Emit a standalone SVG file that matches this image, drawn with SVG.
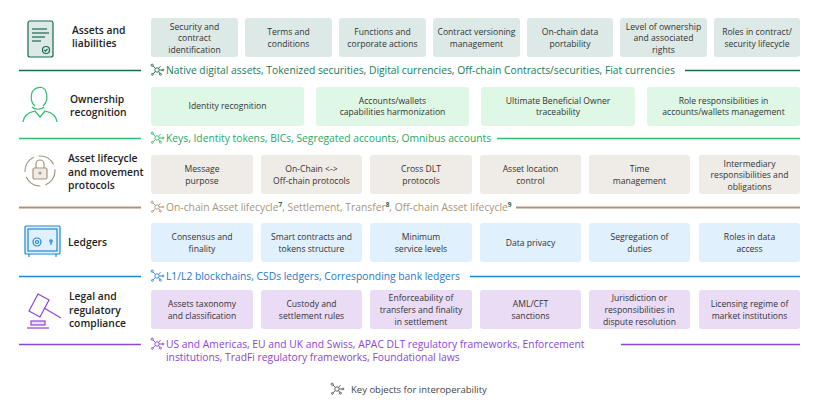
<svg xmlns="http://www.w3.org/2000/svg" width="819" height="414" viewBox="0 0 819 414">
<style>
text{font-family:"Open Sans","Liberation Sans",sans-serif}
.t{font-size:10.3px;font-weight:600;fill:#222}
.b{font-size:8.6px;fill:#333;text-anchor:middle}
.k{font-size:10.3px}
.r1 rect{fill:#dde9e6}.r2 rect{fill:#dff7e5}.r3 rect{fill:#efebe7}.r4 rect{fill:#e0f0fd}.r5 rect{fill:#eadcf5}
rect.bx{rx:3}
.ic{fill:none;stroke-width:1.2}
</style>
<defs>
<g id="net" fill="none" stroke-width="0.9">
<circle cx="0" cy="0" r="2.2"/><line x1="-1.6" y1="-1.6" x2="-4" y2="-4"/><circle cx="-4.8" cy="-4.8" r="1.1"/><line x1="1.6" y1="-1.6" x2="3.5" y2="-3.8"/><line x1="-1.6" y1="1.6" x2="-4" y2="3.8"/><circle cx="-4.6" cy="4.4" r="0.9"/><line x1="1.6" y1="1.6" x2="3" y2="3.6"/><circle cx="3.4" cy="4.2" r="1"/><line x1="2.2" y1="0" x2="5" y2="0"/><circle cx="6" cy="0" r="0.9"/>
</g>
</defs>

<g id="row1" class="r1">
<g class="ic" stroke="#1a6b4e"><rect x="28" y="21" width="25" height="36" rx="2"/><line x1="32" y1="29" x2="47" y2="29"/><line x1="32" y1="33" x2="49" y2="33"/><line x1="32" y1="37" x2="45" y2="37"/><line x1="32" y1="41" x2="41" y2="41"/><circle cx="46" cy="50" r="3.5"/><path d="M44.3 50l1.2 1.2 2-2.2"/></g>
<text class="t" x="72" y="34">Assets and</text><text class="t" x="72" y="47">liabilities</text>
<rect class="bx" x="151" y="18" width="87" height="39"/><text class="b" x="194.5" y="30">Security and</text><text class="b" x="194.5" y="41">contract</text><text class="b" x="194.5" y="53">identification</text>
<rect class="bx" x="245" y="18" width="87" height="39"/><text class="b" x="288.5" y="35">Terms and</text><text class="b" x="288.5" y="47">conditions</text>
<rect class="bx" x="339" y="18" width="87" height="39"/><text class="b" x="382.5" y="35">Functions and</text><text class="b" x="382.5" y="47">corporate actions</text>
<rect class="bx" x="433" y="18" width="87" height="39"/><text class="b" x="476.5" y="35">Contract versioning</text><text class="b" x="476.5" y="47">management</text>
<rect class="bx" x="527" y="18" width="86" height="39"/><text class="b" x="570" y="35">On-chain data</text><text class="b" x="570" y="47">portability</text>
<rect class="bx" x="620" y="18" width="87" height="39"/><text class="b" x="663.5" y="30">Level of ownership</text><text class="b" x="663.5" y="41">and associated</text><text class="b" x="663.5" y="53">rights</text>
<rect class="bx" x="714" y="18" width="86" height="39"/><text class="b" x="757" y="35">Roles in contract/</text><text class="b" x="757" y="47">security lifecycle</text>
</g>
<g id="row2" class="r2">
<g class="ic" stroke="#2dbd6e"><path d="M35 106c-5-4-5-14 0-17c4-3 10-2 11 3c2 4 1 11-3 14"/><path d="M32 107c3 3 9 3 12 0"/><path d="M23 122c1-8 7-10 12-11l5 6 5-6c5 1 11 3 12 11"/></g>
<text class="t" x="70" y="103">Ownership</text><text class="t" x="70" y="116">recognition</text>
<rect class="bx" x="151" y="87" width="153" height="39"/><text class="b" x="227.5" y="109">Identity recognition</text>
<rect class="bx" x="316" y="87" width="153" height="39"/><text class="b" x="392.5" y="104">Accounts/wallets</text><text class="b" x="392.5" y="115">capabilities harmonization</text>
<rect class="bx" x="481" y="87" width="154" height="39"/><text class="b" x="558" y="104">Ultimate Beneficial Owner</text><text class="b" x="558" y="115">traceability</text>
<rect class="bx" x="647" y="87" width="153" height="39"/><text class="b" x="723.5" y="104">Role responsibilities in</text><text class="b" x="723.5" y="115">accounts/wallets management</text>
</g>
<g id="row3" class="r3">
<g class="ic" stroke="#a8957c"><circle cx="40" cy="171" r="15" stroke-dasharray="18 5"/><rect x="33" y="168" width="14" height="11" rx="1.5"/><path d="M36 168v-4a4 4 0 0 1 8 0v4"/><circle cx="40" cy="173" r="1"/></g>
<text class="t" x="68" y="162">Asset lifecycle</text><text class="t" x="68" y="175.5">and movement</text><text class="t" x="68" y="189">protocols</text>
<rect class="bx" x="151" y="155" width="102" height="39"/><text class="b" x="202" y="172">Message</text><text class="b" x="202" y="184">purpose</text>
<rect class="bx" x="261" y="155" width="101" height="39"/><text class="b" x="311.5" y="172">On-Chain &lt;-&gt;</text><text class="b" x="311.5" y="184">Off-chain protocols</text>
<rect class="bx" x="370" y="155" width="102" height="39"/><text class="b" x="421" y="172">Cross DLT</text><text class="b" x="421" y="184">protocols</text>
<rect class="bx" x="480" y="155" width="101" height="39"/><text class="b" x="530.5" y="172">Asset location</text><text class="b" x="530.5" y="184">control</text>
<rect class="bx" x="589" y="155" width="101" height="39"/><text class="b" x="639.5" y="172">Time</text><text class="b" x="639.5" y="184">management</text>
<rect class="bx" x="699" y="155" width="101" height="39"/><text class="b" x="749.5" y="167">Intermediary</text><text class="b" x="749.5" y="178">responsibilities and</text><text class="b" x="749.5" y="190">obligations</text>
</g>
<g id="row4" class="r4">
<g class="ic" stroke="#1f86d9"><rect x="25" y="226" width="35" height="28" rx="1"/><rect x="28" y="229" width="29" height="22"/><circle cx="37" cy="242" r="4"/><circle cx="37" cy="242" r="1.5"/><circle cx="51" cy="241" r="1.2"/><line x1="51" y1="242" x2="51" y2="245"/><line x1="29" y1="254" x2="29" y2="257"/><line x1="56" y1="254" x2="56" y2="257"/></g>
<text class="t" x="68" y="246">Ledgers</text>
<rect class="bx" x="151" y="223" width="102" height="39"/><text class="b" x="202" y="240">Consensus and</text><text class="b" x="202" y="252">finality</text>
<rect class="bx" x="261" y="223" width="101" height="39"/><text class="b" x="311.5" y="240">Smart contracts and</text><text class="b" x="311.5" y="252">tokens structure</text>
<rect class="bx" x="370" y="223" width="102" height="39"/><text class="b" x="421" y="240">Minimum</text><text class="b" x="421" y="252">service levels</text>
<rect class="bx" x="480" y="223" width="101" height="39"/><text class="b" x="530.5" y="246">Data privacy</text>
<rect class="bx" x="589" y="223" width="101" height="39"/><text class="b" x="639.5" y="240">Segregation of</text><text class="b" x="639.5" y="252">duties</text>
<rect class="bx" x="699" y="223" width="101" height="39"/><text class="b" x="749.5" y="240">Roles in data</text><text class="b" x="749.5" y="252">access</text>
</g>
<g id="row5" class="r5">
<g class="ic" stroke="#8f44d8"><path d="M38 294l11 6-9 17-11-6z"/><line x1="44" y1="308" x2="61" y2="318"/><rect x="31" y="321" width="14" height="4"/><line x1="27" y1="328" x2="49" y2="328"/></g>
<text class="t" x="69" y="300">Legal and</text><text class="t" x="69" y="313.5">regulatory</text><text class="t" x="69" y="327">compliance</text>
<rect class="bx" x="151" y="290" width="102" height="39"/><text class="b" x="202" y="307">Assets taxonomy</text><text class="b" x="202" y="319">and classification</text>
<rect class="bx" x="261" y="290" width="101" height="39"/><text class="b" x="311.5" y="307">Custody and</text><text class="b" x="311.5" y="319">settlement rules</text>
<rect class="bx" x="370" y="290" width="102" height="39"/><text class="b" x="421" y="301">Enforceability of</text><text class="b" x="421" y="313">transfers and finality</text><text class="b" x="421" y="325">in settlement</text>
<rect class="bx" x="480" y="290" width="101" height="39"/><text class="b" x="530.5" y="307">AML/CFT</text><text class="b" x="530.5" y="319">sanctions</text>
<rect class="bx" x="589" y="290" width="101" height="39"/><text class="b" x="639.5" y="301">Jurisdiction or</text><text class="b" x="639.5" y="313">responsibilities in</text><text class="b" x="639.5" y="325">dispute resolution</text>
<rect class="bx" x="699" y="290" width="101" height="39"/><text class="b" x="749.5" y="307">Licensing regime of</text><text class="b" x="749.5" y="319">market institutions</text>
</g>

<g id="connectors" stroke-width="1.3">
<line x1="19" y1="70.5" x2="141" y2="70.5" stroke="#1a6b4e"/><line x1="685" y1="70.5" x2="800" y2="70.5" stroke="#1a6b4e"/>
<line x1="19" y1="138.5" x2="141" y2="138.5" stroke="#2dbd6e"/><line x1="497" y1="138.5" x2="800" y2="138.5" stroke="#2dbd6e"/>
<line x1="19" y1="207.5" x2="141" y2="207.5" stroke="#a8957c" stroke-width="1.8"/><line x1="516" y1="207.5" x2="800" y2="207.5" stroke="#a8957c" stroke-width="1.8"/>
<line x1="19" y1="276.5" x2="141" y2="276.5" stroke="#1f86d9"/><line x1="470" y1="276.5" x2="800" y2="276.5" stroke="#1f86d9"/>
<line x1="19" y1="344.5" x2="141" y2="344.5" stroke="#8f44d8"/><line x1="621" y1="344.5" x2="800" y2="344.5" stroke="#8f44d8"/>
</g>

<g id="keys" class="k">
<use href="#net" x="157" y="70" stroke="#1a6b4e"/><text x="166" y="73.5" fill="#1a7a5a">Native digital assets, Tokenized securities, Digital currencies, Off-chain Contracts/securities, Fiat currencies</text>
<use href="#net" x="157" y="138" stroke="#2dbd6e"/><text x="166" y="141.5" fill="#2aa85f">Keys, Identity tokens, BICs, Segregated accounts, Omnibus accounts</text>
<use href="#net" x="157" y="207" stroke="#a8957c"/><text x="166" y="210.5" fill="#a8957c">On-chain Asset lifecycle<tspan font-size="6.5" dy="-4" fill="#1a6b4e" font-weight="bold">7</tspan><tspan dy="4">, Settlement, Transfer</tspan><tspan font-size="6.5" dy="-4" fill="#1a6b4e" font-weight="bold">8</tspan><tspan dy="4">, Off-chain Asset lifecycle</tspan><tspan font-size="6.5" dy="-4" fill="#1a6b4e" font-weight="bold">9</tspan></text>
<use href="#net" x="157" y="276" stroke="#1f86d9"/><text x="166" y="279.5" fill="#1f78c8">L1/L2 blockchains, CSDs ledgers, Corresponding bank ledgers</text>
<use href="#net" x="157" y="344" stroke="#8f44d8"/><text x="166" y="347.5" fill="#8f44d8">US and Americas, EU and UK and Swiss, APAC DLT regulatory frameworks, Enforcement</text><text x="166" y="360.5" fill="#8f44d8">institutions, TradFi regulatory frameworks, Foundational laws</text>
<use href="#net" x="337" y="389" stroke="#555"/><text x="351" y="393" font-size="9.5" fill="#444">Key objects for interoperability</text>
</g>
</svg>
